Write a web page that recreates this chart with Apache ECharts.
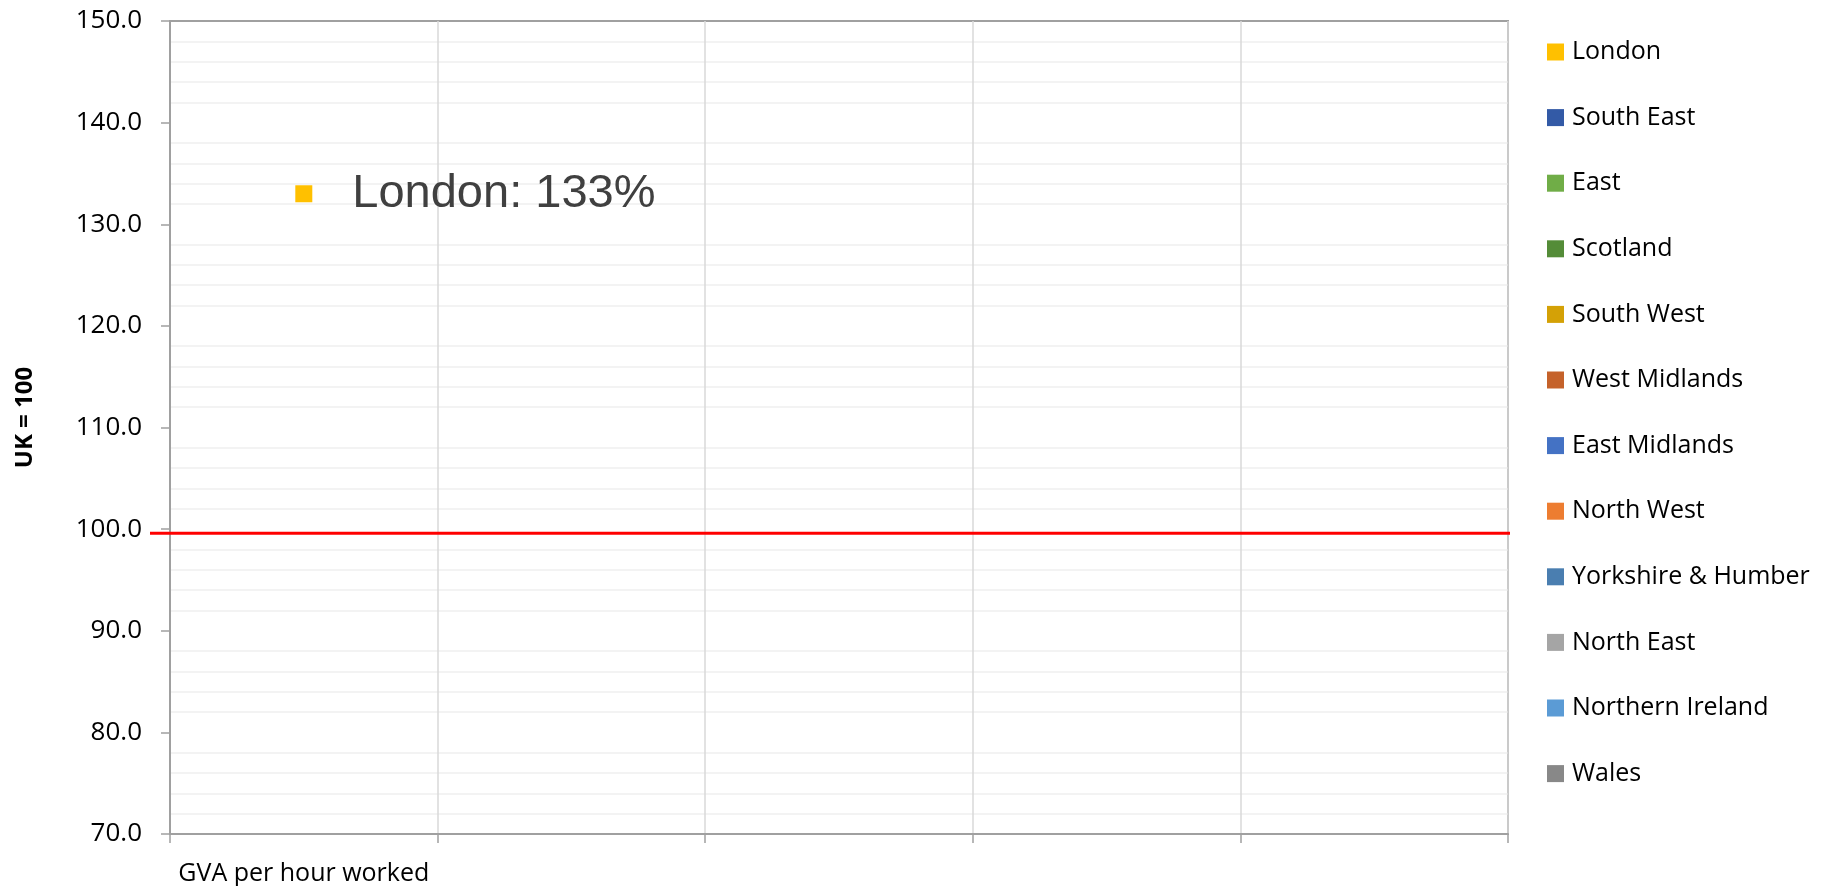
<!DOCTYPE html>
<html>
<head>
<meta charset="utf-8">
<script src="https://cdn.jsdelivr.net/npm/echarts@6/dist/echarts.min.js"></script>
<style>
html,body{margin:0;padding:0;background:#fff;}
#chart{width:1833px;height:886px;}
</style>
</head>
<body>
<div id="chart"></div>
<script>
// ---- data ----
const categories = ['GVA per hour worked', '', '', '', ''];
const regions = ['London', 'South East', 'East', 'Scotland', 'South West', 'West Midlands',
  'East Midlands', 'North West', 'Yorkshire & Humber', 'North East', 'Northern Ireland', 'Wales'];
const regionColors = ['#FFC000', '#335AA6', '#70AD47', '#548C38', '#D4A106', '#C5622A',
  '#4472C4', '#ED7D31', '#4A7EB0', '#A5A5A5', '#5B9BD5', '#888888'];
// value per region (index 0 of categories); only London is plotted in the reference
const londonValues = [133];
const regionValues = { 'London': londonValues };
const ukLineValue = 99.6;
const yTicks = { min: 70, max: 150, interval: 10 };

const chart = echarts.init(document.getElementById('chart'));

const fontMain = '"Open Sans", "Noto Sans", sans-serif';

const series = regions.map((name, i) => {
  const vals = regionValues[name] || [];
  return {
    name: name,
    type: 'scatter',
    xAxisIndex: 0,
    yAxisIndex: 0,
    symbol: 'rect',
    symbolSize: 17,
    itemStyle: { color: regionColors[i], opacity: 1 },
    data: vals.map((v, k) => [categories[k], v]),
    label: {
      show: true,
      position: 'right',
      distance: 40,
      formatter: (p) => p.seriesName + ': ' + Math.round(p.value[1]) + '%',
      fontFamily: '"Liberation Sans", Arial, sans-serif',
      fontSize: 47,
      color: '#404040',
      opacity: 1
    },
    z: 5
  };
});

series.push({
  name: 'UK',
  type: 'line',
  xAxisIndex: 1,
  yAxisIndex: 1,
  symbol: 'none',
  silent: true,
  lineStyle: { color: '#FF0000', width: 3 },
  data: [[0, ukLineValue], [1, ukLineValue]],
  z: 4
});

chart.setOption({
  animation: false,
  backgroundColor: '#ffffff',
  textStyle: { fontFamily: fontMain },
  legend: {
    data: regions,
    orient: 'vertical',
    left: 1542,
    top: 34,
    itemWidth: 17,
    itemHeight: 17,
    itemGap: 39.6,
    icon: 'rect',
    textStyle: { fontFamily: fontMain, fontSize: 25, color: '#000', lineHeight: 26, padding: [0, 0, 0, 3] },
    selectedMode: false
  },
  grid: [
    { left: 170, right: 325, top: 21, bottom: 52, show: true, borderColor: '#a0a0a0', borderWidth: 2, backgroundColor: 'transparent' },
    { left: 150, right: 323, top: 21, bottom: 52, show: false }
  ],
  xAxis: [
    {
      type: 'category',
      gridIndex: 0,
      data: categories,
      boundaryGap: true,
      axisLine: { lineStyle: { color: '#a0a0a0', width: 2 } },
      axisTick: { show: true, length: 9, lineStyle: { color: '#a0a0a0', width: 1.5 } },
      splitLine: { show: true, lineStyle: { color: '#d9d9d9', width: 1.5 } },
      axisLabel: { fontFamily: fontMain, fontSize: 25, color: '#000', margin: 27, interval: 0 }
    },
    { type: 'value', gridIndex: 1, min: 0, max: 1, show: false }
  ],
  yAxis: [
    {
      type: 'value',
      gridIndex: 0,
      min: yTicks.min,
      max: yTicks.max,
      interval: yTicks.interval,
      name: 'UK = 100',
      nameLocation: 'middle',
      nameGap: 133,
      nameTextStyle: { fontFamily: fontMain, fontWeight: 'bold', fontSize: 24, color: '#000', padding: [0, 0, 0, 20] },
      axisLine: { show: true, lineStyle: { color: '#a0a0a0', width: 2 } },
      axisTick: { show: true, length: 9, lineStyle: { color: '#a0a0a0', width: 1.5 } },
      axisLabel: { fontFamily: fontMain, fontSize: 26, color: '#000', margin: 28, formatter: (v) => v.toFixed(1) },
      splitLine: { show: false },
      minorTick: { show: false, splitNumber: 5 },
      minorSplitLine: { show: true, lineStyle: { color: '#efefef', width: 1.5 } }
    },
    { type: 'value', gridIndex: 1, min: yTicks.min, max: yTicks.max, show: false }
  ],
  series: series
});
</script>
</body>
</html>
